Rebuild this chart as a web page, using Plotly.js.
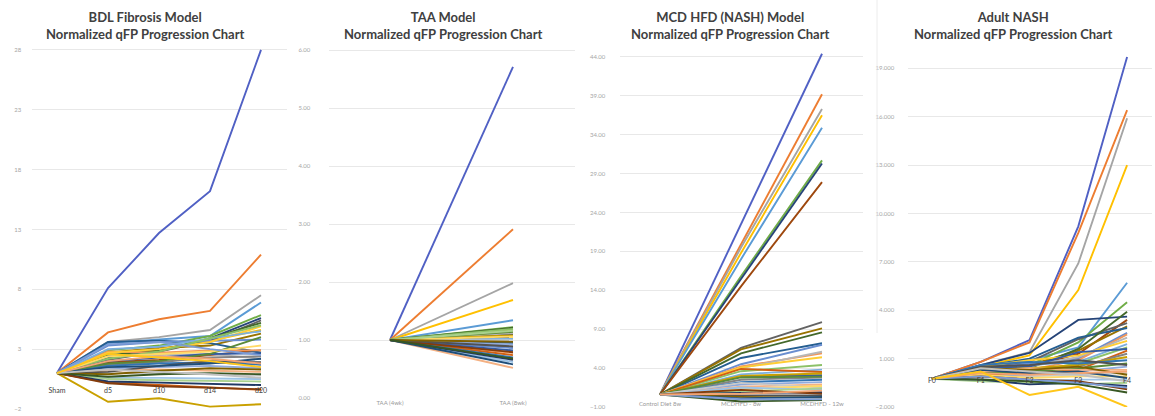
<!DOCTYPE html>
<html><head><meta charset="utf-8">
<script src="https://cdn.plot.ly/plotly-3.0.1.min.js"></script>
<style>html,body{margin:0;padding:0;background:#fff}#chart{width:1155px;height:416px}</style>
</head><body><div id="chart"></div>
<script>
// ---------- DATA ----------
const bdlCategories = ["Sham", "d5", "d10", "d14", "d20"];
const bdlSeries = [
  [1, 8.1, 12.7, 16.2, 28.0],
  [1, 4.4, 5.5, 6.2, 10.9],
  [1, 3.6, 4.0, 4.6, 7.5],
  [1, 2.7, 3.0, 3.7, 4.6],
  [1, 3.5, 3.8, 4.1, 6.9],
  [1, 2.9, 3.3, 4.1, 5.85],
  [1, 2.3, 2.8, 3.9, 5.6],
  [1, 1.9, 2.1, 2.5, 2.9],
  [1, 2.1, 2.8, 3.7, 5.4],
  [1, 2.7, 3.1, 3.3, 4.3],
  [1, 3.6, 3.7, 3.5, 2.7],
  [1, 2.5, 2.9, 3.9, 5.2],
  [1, 3.3, 3.6, 3.7, 3.8],
  [1, 2.8, 2.7, 2.9, 2.9],
  [1, 2.4, 2.5, 2.6, 2.2],
  [1, 2.7, 3.0, 3.6, 4.9],
  [1, 3.0, 3.2, 3.9, 4.5],
  [1, 2.2, 2.8, 3.9, 5.0],
  [1, 2.0, 2.3, 2.6, 2.65],
  [1, 0.2, 0.0, -0.2, -0.4],
  [1, 1.7, 1.9, 2.3, 2.4],
  [1, -1.4, -1.1, -1.8, -1.6],
  [1, 1.6, 1.8, 1.9, 1.7],
  [1, 1.8, 2.0, 2.6, 4.0],
  [1, 1.4, 1.5, 1.6, 1.4],
  [1, 1.2, 1.3, 1.2, 1.1],
  [1, 1.0, 1.0, 0.9, 0.8],
  [1, 2.4, 2.6, 2.8, 3.3],
  [1, 0.6, 0.6, 0.55, 0.5],
  [1, 0.5, 0.4, 0.35, 0.3],
  [1, 0.3, 0.2, 0.1, 0.0],
  [1, 0.15, -0.1, -0.25, -0.35],
  [1, 1.1, 1.6, 2.0, 1.9],
  [1, 0.9, 1.2, 1.4, 1.3],
  [1, 1.5, 1.6, 1.8, 2.2],
  [1, 0.7, 0.9, 1.0, 0.9],
  [1, 3.4, 3.6, 3.0, 2.5],
  [1, 2.0, 2.4, 2.2, 1.8],
  [1, 1.3, 1.1, 0.9, 0.6],
  [1, 2.6, 2.3, 2.0, 1.5]
];
const bdlTicks = [-2, 3, 8, 13, 18, 23, 28];

const taaCategories = ["TAA (4wk)", "TAA (8wk)"];
const taaStart = 1.0;
const taaEnd = [5.71, 2.91, 1.98, 1.69, 1.34, 1.22, 1.10, 0.88, 1.05, 1.18, 0.95, 1.21,
  0.86, 0.78, 1.12, 1.15, 1.02, 1.19, 0.82, 0.74, 0.98, 1.08, 0.70, 1.14, 0.92, 0.52,
  0.99, 1.06, 0.62, 1.16, 0.66, 0.79, 0.89, 0.97, 0.58, 0.68];
const taaTicks = [0, 1, 2, 3, 4, 5, 6];

const mcdCategories = ["Control Diet 8w", "MCDHFD - 8w", "MCDHFD - 12w"];
const mcdSeries = [
  [0.6, 22.5, 44.4], [0.6, 20.0, 39.2], [0.6, 19.5, 37.3], [0.6, 18.8, 36.5],
  [0.6, 18.0, 34.9], [0.6, 15.8, 30.7], [0.6, 15.5, 30.3], [0.6, 14.5, 27.9],
  [0.6, 6.6, 9.9], [0.6, 6.4, 9.1], [0.6, 5.3, 7.2], [0.6, 5.9, 8.6],
  [0.6, 4.5, 7.0], [0.6, 4.2, 5.9], [0.6, 4.0, 6.1], [0.6, 4.1, 5.4],
  [0.6, 3.2, 3.8], [0.6, 3.6, 4.4], [0.6, 2.9, 3.1], [0.6, 3.9, 3.5],
  [0.6, 2.5, 2.8], [0.6, 3.0, 3.3], [0.6, 2.2, 2.5], [0.6, 2.8, 2.9],
  [0.6, 1.9, 2.2], [0.6, 1.6, 1.9], [0.6, 2.1, 1.5], [0.6, 1.3, 1.7],
  [0.6, 1.5, 1.2], [0.6, 1.0, 1.4], [0.6, 0.8, 0.9], [0.6, 1.2, 0.7],
  [0.6, 0.5, 0.5], [0.6, 0.3, 0.2], [0.6, 0.1, 0.3], [0.6, -0.3, -0.1],
  [0.6, 0.0, 0.0], [0.6, 0.7, 1.1]
];
const mcdTicks = [-1, 4, 9, 14, 19, 24, 29, 34, 39, 44];

const nashCategories = ["F0", "F1", "F2", "F3", "F4"];
const nashSeries = [
  [-0.25, 0.8, 2.15, 9.2, 19.7], [-0.25, 0.8, 2.0, 8.8, 16.4], [-0.25, 0.6, 1.4, 6.9, 15.9],
  [-0.25, 0.5, 1.2, 5.25, 13.0], [-0.25, 0.5, 0.9, 1.7, 5.7], [-0.25, 0.3, 0.6, 2.0, 4.5],
  [-0.25, 0.6, 1.35, 3.4, 3.6], [-0.25, 0.2, 0.5, 1.3, 3.4], [-0.25, 0.4, 0.8, 2.2, 3.2],
  [-0.25, 0.3, 0.6, 1.5, 3.0], [-0.25, 0.5, 1.0, 2.3, 2.9], [-0.25, 0.2, 0.4, 1.6, 3.9],
  [-0.25, 0.4, 0.7, 1.0, 2.6], [-0.25, 0.1, 0.3, 0.9, 2.5], [-0.25, 0.2, 0.5, 1.1, 2.3],
  [-0.25, 0.5, 0.9, 1.2, 2.1], [-0.25, 0.3, 0.6, 0.8, 1.9], [-0.25, 0.1, 0.2, 0.7, 1.7],
  [-0.25, 0.4, 0.5, 1.4, 1.6], [-0.25, 0.0, 0.1, 0.3, 1.5], [-0.25, 0.2, 0.3, 0.5, 1.3],
  [-0.25, 0.3, 0.4, 0.6, 1.1], [-0.25, 0.6, 0.8, 0.7, 0.9], [-0.25, 0.1, 0.2, 0.4, 0.7],
  [-0.25, -0.1, 0.0, 0.2, 0.5], [-0.25, 0.2, 0.4, 0.3, 0.3], [-0.25, -0.2, -0.1, 0.0, 0.1],
  [-0.25, 0.0, -0.2, -0.1, -0.1], [-0.25, -0.3, -0.4, -0.3, -0.3], [-0.25, -0.4, -0.5, -0.6, -0.5],
  [-0.25, -0.3, -0.6, -0.5, -0.7], [-0.25, -0.1, -0.3, -0.4, -0.9], [-0.25, 0.5, 0.6, 0.9, 0.6],
  [-0.25, 0.4, 0.3, 0.5, 0.0], [-0.25, 0.3, 0.1, 0.2, -0.2], [-0.25, -0.3, -0.4, -0.6, -1.1],
  [-0.25, -0.1, -0.3, -0.5, -0.8], [-0.25, 0.1, 0.0, 0.1, 0.2], [-0.25, 0.4, 0.2, 0.0, -0.4],
  [-0.25, 0.2, -1.25, -0.75, -2.0]
];
const nashTicks = [-2, 1, 4, 7, 10, 13, 16, 19];

const panelTitles = [
  "BDL Fibrosis Model<br>Normalized qFP Progression Chart",
  "TAA Model<br>Normalized qFP Progression Chart",
  "MCD HFD (NASH) Model<br>Normalized qFP Progression Chart",
  "Adult NASH<br>Normalized qFP Progression Chart"
];

// ---------- STYLE ----------
const palette = [
  "#5060C4", "#ED7D31", "#A5A5A5", "#FFC000", "#5B9BD5", "#70AD47",
  "#264478", "#9E480E", "#636363", "#997300", "#255E91", "#43682B",
  "#698ED0", "#F1975A", "#B7B7B7", "#FFCD33", "#7CAFDD", "#8CC168",
  "#335AA1", "#D26012", "#848484", "#C9A000", "#3275B4", "#5A8A39",
  "#8FAADC", "#F4B183", "#C9C9C9", "#FFD966", "#9DC3E6", "#A9D18E",
  "#203864", "#843C0C", "#525252", "#7F6000", "#1F4E79", "#385723",
  "#7C9CD6", "#F3A472", "#C0C0C0", "#FFC61A", "#8AB9E2", "#9BC97B"
];
const W = 1155, H = 416;
const dx = (a, b) => [a / W, b / W];
const dy = (top, bottom) => [(H - bottom) / H, (H - top) / H];
const LW = 1.9;

const traces = [];
function addLines(series, cats, ax) {
  series.forEach((vals, i) => {
    traces.push({
      type: "scatter", mode: "lines", x: cats, y: vals,
      xaxis: "x" + ax, yaxis: "y" + ax,
      line: { color: palette[i % palette.length], width: LW },
      hoverinfo: "skip", showlegend: false
    });
  });
}
addLines(bdlSeries, bdlCategories, "");
addLines(taaEnd.map(v => [taaStart, v]), taaCategories, "2");
addLines(mcdSeries, mcdCategories, "3");
addLines(nashSeries, nashCategories, "4");

const gridC = "#e8e8e8";
function yax(range, dom, ticks, fmt, len, anchor) {
  return {
    domain: dom, range: range, tickvals: ticks, tickformat: fmt,
    showgrid: true, gridcolor: gridC, gridwidth: 1, zeroline: false, showline: false,
    ticks: "outside", ticklen: len, tickcolor: "rgba(0,0,0,0)",
    tickfont: { family: "Lato, sans-serif", size: 6, color: "#a6a6a6" },
    anchor: anchor, fixedrange: true
  };
}
function xax(dom, n, anchor, pos, fcol, fsize) {
  const a = {
    domain: dom, type: "category", range: [-0.5, n - 0.5],
    showgrid: false, zeroline: false, showline: false, ticks: "",
    tickfont: { family: "Lato, sans-serif", size: fsize, color: fcol },
    fixedrange: true
  };
  if (pos !== null) { a.anchor = "free"; a.position = pos; } else { a.anchor = anchor; }
  return a;
}

const layout = {
  width: W, height: H,
  margin: { l: 0, r: 0, t: 0, b: 0 },
  paper_bgcolor: "#ffffff", plot_bgcolor: "rgba(0,0,0,0)",
  showlegend: false,
  xaxis: xax(dx(31.5, 286.5), 5, "y", (H - 385) / H, "#404040", 7),
  yaxis: yax([-2, 28.4], dy(45.1, 409), bdlTicks, "d", 8, "x"),
  xaxis2: xax(dx(328.5, 574.5), 2, "y2", null, "#9a9a9a", 6),
  yaxis2: yax([0, 6.1], dy(44.2, 398), taaTicks, ".2f", 16, "x2"),
  xaxis3: xax(dx(619.5, 862.5), 3, "y3", (H - 399) / H, "#9a9a9a", 6),
  yaxis3: yax([-1, 45], dy(49.1, 407), mcdTicks, ".2f", 12, "x3"),
  xaxis4: xax(dx(907.5, 1151.5), 5, "y4", (H - 374.7) / H, "#404040", 7),
  yaxis4: yax([-2, 20.3], dy(47.3, 407), nashTicks, ".3f", 11, "x4"),
  annotations: panelTitles.map((t, i) => ({
    text: "<b>" + t + "</b>", xref: "paper", yref: "paper",
    x: [145, 443, 730, 1013][i] / W, y: (H - 25) / H,
    xanchor: "center", yanchor: "middle", showarrow: false, align: "center",
    font: { family: "Lato, sans-serif", size: 13, color: "#404040" }
  })),
  shapes: [
    { type: "line", xref: "paper", yref: "paper", x0: 877 / W, x1: 877 / W,
      y0: (H - 333) / H, y1: 1, line: { color: "#ececec", width: 1 } }
  ]
};

Plotly.newPlot("chart", traces, layout, { staticPlot: true, displayModeBar: false });
</script>
</body></html>
